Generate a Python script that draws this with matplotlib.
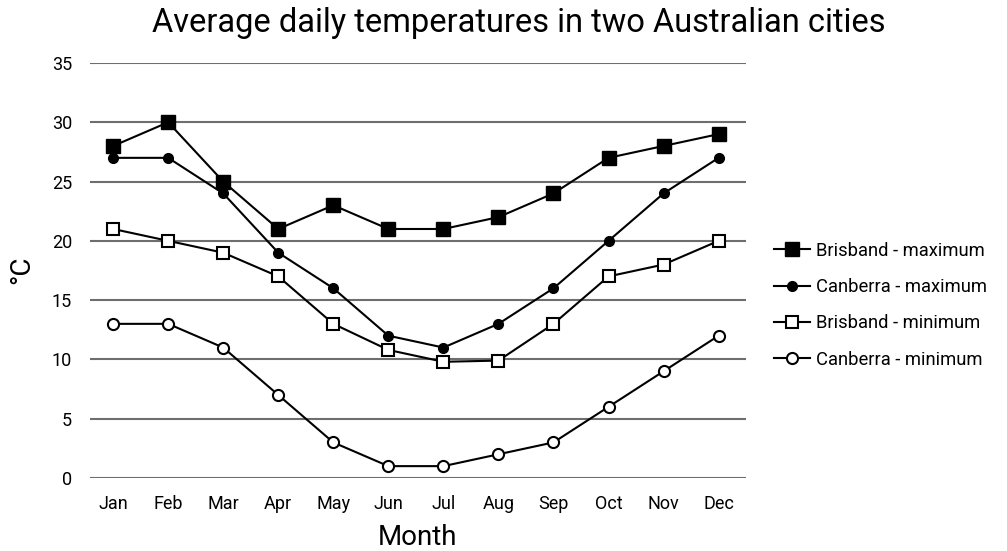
import numpy as np
import matplotlib.pyplot as plt

plt.rcParams['font.family'] = ['Roboto', 'DejaVu Sans']

months = ['Jan', 'Feb', 'Mar', 'Apr', 'May', 'Jun',
          'Jul', 'Aug', 'Sep', 'Oct', 'Nov', 'Dec']
brisbane_max = [28, 30, 25, 21, 23, 21, 21, 22, 24, 27, 28, 29]
canberra_max = [27, 27, 24, 19, 16, 12, 11, 13, 16, 20, 24, 27]
brisbane_min = [21, 20, 19, 17, 13, 10.8, 9.8, 9.9, 13, 17, 18, 20]
canberra_min = [13, 13, 11, 7, 3, 1, 1, 2, 3, 6, 9, 12]
yticks = [0, 5, 10, 15, 20, 25, 30, 35]

fig = plt.figure(figsize=(10.07, 5.51), dpi=100)
ax = fig.add_axes([0.0894, 0.1325, 0.651, 0.7532])

x = np.arange(len(months))
ax.plot(x, brisbane_max, color='black', lw=1.5, marker='s', ms=10,
        mfc='black', mec='black', label='Brisband - maximum', zorder=3)
ax.plot(x, canberra_max, color='black', lw=1.5, marker='o', ms=7,
        mfc='black', mec='black', label='Canberra - maximum', zorder=3)
ax.plot(x, brisbane_min, color='black', lw=1.5, marker='s', ms=9,
        mfc='white', mec='black', mew=1.5, label='Brisband - minimum', zorder=3)
ax.plot(x, canberra_min, color='black', lw=1.5, marker='o', ms=8,
        mfc='white', mec='black', mew=1.5, label='Canberra - minimum', zorder=3)

ax.set_xlim(-0.42, 11.49)
ax.set_ylim(0, 35)
ax.set_yticks(yticks)
ax.set_xticks(x)
ax.set_xticklabels(months)
ax.tick_params(length=0, labelsize=13, pad=12)
ax.tick_params(axis='y', pad=13)
ax.yaxis.grid(True, color='#6e6e6e', lw=1.5)
ax.set_axisbelow(True)
for s in ax.spines.values():
    s.set_visible(False)

fig.text(0.515, 0.958, 'Average daily temperatures in two Australian cities',
         fontsize=23.5, ha='center', va='center')
ax.set_xlabel('Month', fontsize=20, labelpad=8)
fig.text(0.022, 0.51, '°C', fontsize=20, rotation=90, ha='center', va='center')

fig.legend(loc='center left', bbox_to_anchor=(0.752, 0.446), frameon=False,
           fontsize=13.2, handlelength=2.0, handletextpad=0.3, labelspacing=1.0)

fig.savefig('out.png', dpi=100)
